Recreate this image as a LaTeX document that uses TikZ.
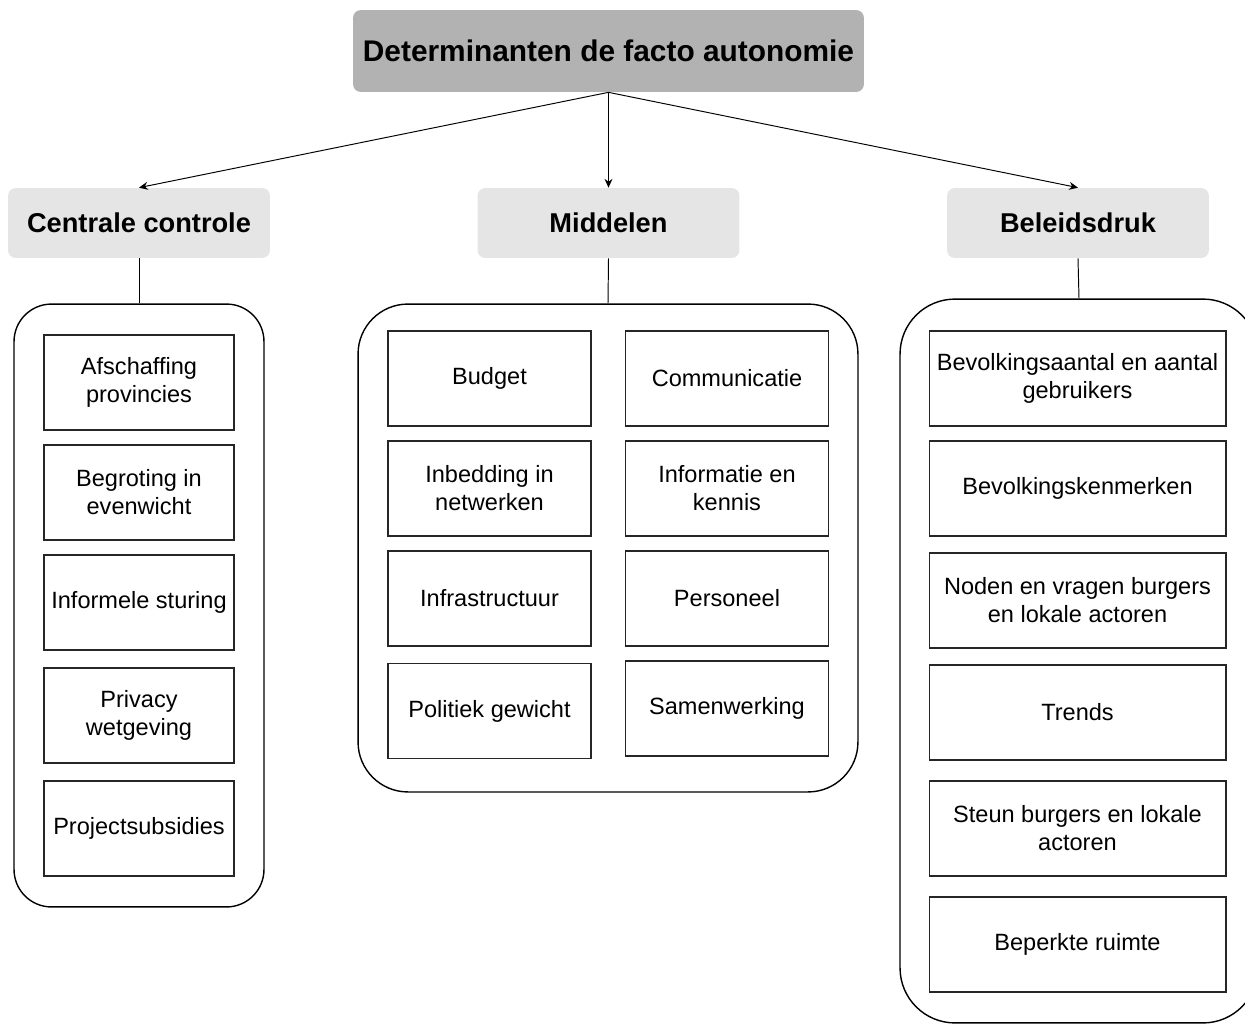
\documentclass[tikz,border=0pt]{standalone}
\usepackage{fontspec}
\setmainfont{Liberation Sans}
\usetikzlibrary{arrows.meta}

\tikzset{
    titelbox/.style={rectangle, rounded corners=4.5pt, fill=black!30, draw=none,
        minimum width=10.22cm, minimum height=1.64cm,
        font=\fontsize{17}{20}\selectfont\bfseries},
    groepbox/.style={rectangle, rounded corners=4.5pt, fill=black!10, draw=none,
        minimum width=5.24cm, minimum height=1.4cm,
        font=\fontsize{15.5}{18}\selectfont\bfseries},
    paneel/.style={rectangle, draw=black, line width=0.8pt, fill=none},
    factor/.style={rectangle, draw=black!85, line width=0.6pt, align=center,
        minimum height=1.9cm, inner sep=2pt,
        font=\fontsize{13.4}{16}\selectfont},
    pijl/.style={-{Stealth[length=5pt, width=4.5pt]}, line width=0.55pt},
    lijn/.style={line width=0.55pt}
}

\begin{document}
\begin{tikzpicture}[x=0.02cm, y=-0.02cm]
    \useasboundingbox (0,0) rectangle (1245,1025);
    \clip (0,0) rectangle (1245,1025);

    \node[titelbox] (titel) at (608.5,  51) {Determinanten de facto autonomie};
    \node[groepbox] (cc)    at (139,   223) {Centrale controle};
    \node[groepbox] (mid)   at (608.5, 223) {Middelen};
    \node[groepbox] (bel)   at (1078,  223) {Beleidsdruk};

    \node[paneel, rounded corners=0.75cm, minimum width=5.0cm,  minimum height=12.06cm] (ccpaneel)  at (139,  605.5) {};
    \node[paneel, rounded corners=1.0cm,  minimum width=10.0cm, minimum height=9.76cm ] (midpaneel) at (608,  548)   {};
    \node[paneel, rounded corners=1.1cm,  minimum width=7.16cm, minimum height=14.48cm] (belpaneel) at (1079, 661)   {};

    \draw[pijl] (titel.south) -- (cc.north);
    \draw[pijl] (titel.south) -- (mid.north);
    \draw[pijl] (titel.south) -- (bel.north);
    \draw[lijn] (cc.south)  -- (ccpaneel.north);
    \draw[lijn] (mid.south) -- (midpaneel.north);
    \draw[lijn] (bel.south) -- (belpaneel.north);

    \node[factor, minimum width=3.8cm] (cc1) at (139, 382.5) {Afschaffing\\provincies};
    \node[factor, minimum width=3.8cm] (cc2) at (139, 492.5) {Begroting in\\evenwicht};
    \node[factor, minimum width=3.8cm] (cc3) at (139, 602.5) {Informele sturing};
    \node[factor, minimum width=3.8cm] (cc4) at (139, 715.5) {Privacy\\wetgeving};
    \node[factor, minimum width=3.8cm] (cc5) at (139, 828.5) {Projectsubsidies};

    \node[factor, minimum width=4.06cm] (mid1) at (489.5, 378.5) {Budget};
    \node[factor, minimum width=4.06cm] (mid2) at (727,   378.5) {Communicatie};
    \node[factor, minimum width=4.06cm] (mid3) at (489.5, 488.5) {Inbedding in\\netwerken};
    \node[factor, minimum width=4.06cm] (mid4) at (727,   488.5) {Informatie en\\kennis};
    \node[factor, minimum width=4.06cm] (mid5) at (489.5, 598.5) {Infrastructuur};
    \node[factor, minimum width=4.06cm] (mid6) at (727,   598.5) {Personeel};
    \node[factor, minimum width=4.06cm] (mid7) at (489.5, 711)   {Politiek gewicht};
    \node[factor, minimum width=4.06cm] (mid8) at (727,   708.5) {Samenwerking};

    \node[factor, minimum width=5.94cm] (bel1) at (1077.5, 378.5) {Bevolkingsaantal en aantal\\gebruikers};
    \node[factor, minimum width=5.94cm] (bel2) at (1077.5, 488.5) {Bevolkingskenmerken};
    \node[factor, minimum width=5.94cm] (bel3) at (1077.5, 600.5) {Noden en vragen burgers\\en lokale actoren};
    \node[factor, minimum width=5.94cm] (bel4) at (1077.5, 712.5) {Trends};
    \node[factor, minimum width=5.94cm] (bel5) at (1077.5, 828.5) {Steun burgers en lokale\\actoren};
    \node[factor, minimum width=5.94cm] (bel6) at (1077.5, 944.5) {Beperkte ruimte};
\end{tikzpicture}
\end{document}
